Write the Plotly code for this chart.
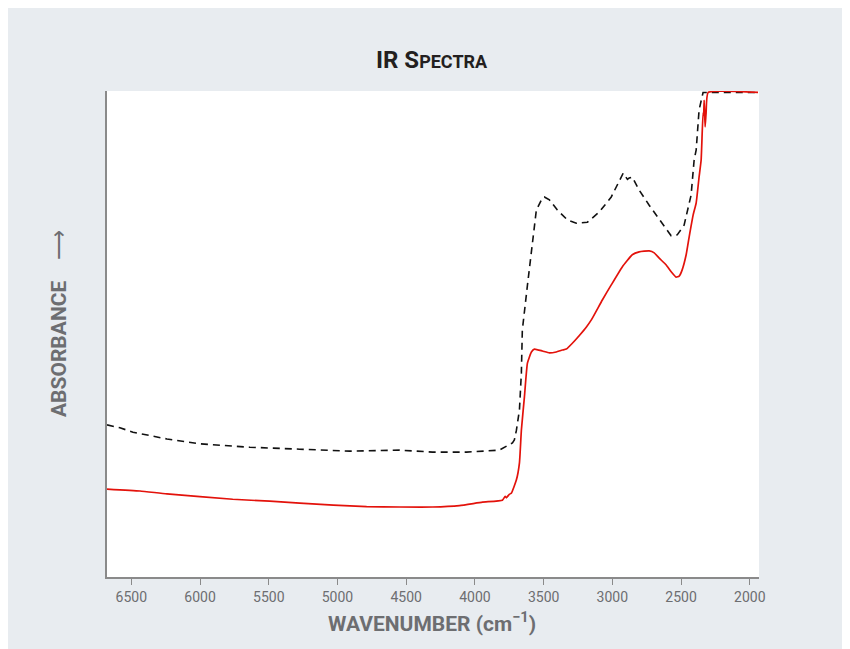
import plotly.graph_objects as go

# Sample B (black dashed) — wavenumber (cm-1) and relative absorbance
wn_dashed = [6677, 6583, 6488, 6241, 6001, 5638, 5275, 4911, 4548, 4308, 4061, 3822,
             3727, 3713, 3698, 3676, 3662, 3655, 3618, 3582, 3553, 3509, 3495, 3458,
             3400, 3328, 3262, 3182, 3095, 3008, 2950, 2921, 2890, 2877, 2855, 2805,
             2732, 2659, 2587, 2572, 2528, 2478, 2427, 2405, 2390, 2369, 2354, 2340, 1940]
abs_dashed = [0.313, 0.307, 0.298, 0.284, 0.274, 0.267, 0.263, 0.259, 0.261, 0.257, 0.257, 0.261,
              0.276, 0.282, 0.302, 0.344, 0.420, 0.508, 0.600, 0.693, 0.755, 0.780, 0.782, 0.776,
              0.755, 0.735, 0.728, 0.730, 0.751, 0.782, 0.813, 0.831, 0.818, 0.821, 0.823, 0.796,
              0.765, 0.735, 0.708, 0.702, 0.704, 0.724, 0.786, 0.858, 0.879, 0.961, 0.981, 0.997, 0.997]

# Sample A (red solid)
wn_solid = [6677, 6437, 6241, 5762, 5493, 5275, 5030, 4788, 4548, 4308, 4112, 3945, 3800, 3780,
            3771, 3750, 3734, 3698, 3676, 3662, 3640, 3618, 3589, 3567, 3509, 3458, 3408, 3364,
            3335, 3291, 3240, 3190, 3153, 3073, 3008, 2928, 2855, 2805, 2732, 2695, 2659, 2608,
            2572, 2536, 2514, 2492, 2463, 2441, 2412, 2390, 2369, 2354,
            2340, 2336, 2332, 2325, 2318, 2303, 1940]
abs_solid = [0.181, 0.177, 0.171, 0.160, 0.156, 0.152, 0.148, 0.145, 0.144, 0.144, 0.147, 0.154, 0.158,
             0.166, 0.163, 0.170, 0.173, 0.200, 0.235, 0.302, 0.370, 0.440, 0.463, 0.469, 0.465, 0.461,
             0.463, 0.467, 0.469, 0.481, 0.497, 0.514, 0.529, 0.570, 0.601, 0.638, 0.663, 0.669, 0.671,
             0.667, 0.656, 0.642, 0.628, 0.617, 0.619, 0.632, 0.663, 0.700, 0.745, 0.770, 0.823, 0.858,
             0.955, 0.950, 0.981, 0.926, 0.955, 0.997, 0.997]

tick_vals = [6500, 6000, 5500, 5000, 4500, 4000, 3500, 3000, 2500, 2000]
tick_text = [str(v) for v in tick_vals]

TXT = "#6d6e71"
FONT = "Roboto, sans-serif"

fig = go.Figure()
fig.add_trace(go.Scatter(x=wn_dashed, y=abs_dashed, mode="lines",
                         line=dict(color="#111111", width=1.6, dash="7px,5px"),
                         showlegend=False, hoverinfo="skip"))
fig.add_trace(go.Scatter(x=wn_solid, y=abs_solid, mode="lines",
                         line=dict(color="#e3120b", width=1.7, shape="spline", smoothing=0.4),
                         showlegend=False, hoverinfo="skip"))

L, R, T, B = 99, 99, 83, 80
fig.update_layout(
    width=850, height=649,
    paper_bgcolor="#e8ecf0", plot_bgcolor="#ffffff",
    margin=dict(l=L, r=R, t=T, b=B),
    xaxis=dict(range=[6677, 1933], tickvals=tick_vals, ticktext=tick_text,
               showgrid=False, zeroline=False, showline=True, linecolor="#8a8a8a",
               linewidth=1.5, ticks="outside", ticklen=6, tickcolor="#8a8a8a",
               tickfont=dict(family=FONT, size=14, color=TXT)),
    yaxis=dict(range=[0, 1], showticklabels=False, showgrid=False, zeroline=False,
               showline=True, linecolor="#8a8a8a", linewidth=1.5, ticks=""),
    annotations=[
        dict(text="<b>IR S<span style='font-size:18px'>PECTRA</span></b>",
             showarrow=False, font=dict(family=FONT, size=24, color="#231f20")),
        dict(text="<b>WAVENUMBER (cm<sup>−1</sup>)</b>",
             showarrow=False, font=dict(family=FONT, size=21, color=TXT)),
        dict(text="<b>ABSORBANCE</b>    ⟶",
             showarrow=False, textangle=-90, font=dict(family=FONT, size=21, color=TXT)),
    ],
)

# place annotations at page-pixel positions (page has an 8px body offset)
pw, ph = 850 - L - R, 649 - T - B
left_pg, bottom_pg = L + 8, 649 - B + 8
for a, (px, py) in zip(fig.layout.annotations, [(432, 60), (432, 622), (59, 324)]):
    a.xref, a.yref = "paper", "paper"
    a.x = (px - left_pg) / pw
    a.y = (bottom_pg - py) / ph
    a.xanchor = "center"
    a.yanchor = "middle"

fig.write_html("out.html")
